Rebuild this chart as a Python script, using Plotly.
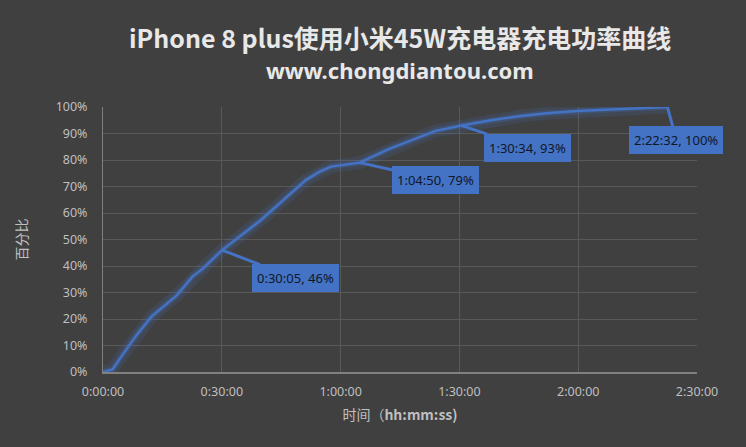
import plotly.graph_objects as go

# elapsed time in minutes, battery percentage
minutes = [0, 2.4, 4.7, 8.5, 12.3, 18.7, 22.6, 25.2, 30.083, 34.5, 39.6, 51.3, 54.7,
           57.6, 64.833, 72, 78.2, 84, 90.567, 98, 105.1, 112, 119.8, 130, 142.533]
percent = [0, 1, 6, 14, 21, 29, 36, 39, 46, 51, 57, 72.5, 75.6,
           77.5, 79, 84, 87.5, 91, 93, 95, 96.5, 97.6, 98.5, 99.2, 100]

# labelled points
label_minutes = [30.083, 64.833, 90.567, 142.533]
label_percent = [46, 79, 93, 100]
label_texts = ["0:30:05, 46%", "1:04:50, 79%", "1:30:34, 93%", "2:22:32, 100%"]
label_offsets = [(73, 28), (76, 17), (66, 22), (9, 33)]

tick_minutes = [0, 30, 60, 90, 120, 150]
tick_labels = ["0:00:00", "0:30:00", "1:00:00", "1:30:00", "2:00:00", "2:30:00"]

BG = "#404040"
BLUE = "#4472C4"
GRID = "#595959"
TXT = "#bfbfbf"

y = [p / 100 for p in percent]

fig = go.Figure()
fig.add_trace(go.Scatter(x=minutes, y=y, mode="lines",
                         line=dict(color="rgba(68,114,196,0.14)", width=13),
                         hoverinfo="skip", showlegend=False))
fig.add_trace(go.Scatter(x=minutes, y=y, mode="lines",
                         line=dict(color="rgba(68,114,196,0.25)", width=6),
                         hoverinfo="skip", showlegend=False))
fig.add_trace(go.Scatter(x=minutes, y=y, mode="lines",
                         line=dict(color=BLUE, width=2.5), showlegend=False))

annotations = []
for m, p, t, (dx, dy) in zip(label_minutes, label_percent, label_texts, label_offsets):
    annotations.append(dict(
        x=m, y=p / 100, xref="x", yref="y", text=t,
        showarrow=True, arrowhead=0, arrowwidth=3, arrowcolor=BLUE,
        ax=dx, ay=dy, standoff=0,
        bgcolor=BLUE, bordercolor=BLUE, borderpad=4,
        font=dict(family="Noto Sans", size=13, color="#101828"),
    ))

annotations.append(dict(
    text="<b>iPhone 8 plus使用小米45W充电器充电功率曲线</b>",
    x=0.5, y=1.264, xref="paper", yref="paper", xanchor="center", yanchor="middle",
    showarrow=False, font=dict(family="Noto Sans CJK SC", size=25, color="#e8e8e8"),
))
annotations.append(dict(
    text="<b>www.chongdiantou.com</b>",
    x=0.5, y=1.14, xref="paper", yref="paper", xanchor="center", yanchor="middle",
    showarrow=False, font=dict(family="Noto Sans", size=22, color="#e8e8e8"),
))

fig.update_layout(
    width=746, height=447,
    paper_bgcolor=BG, plot_bgcolor=BG,
    margin=dict(l=103, r=49, t=107, b=75),
    annotations=annotations,
    font=dict(family="Noto Sans CJK SC", color=TXT, size=12),
    xaxis=dict(range=[0, 150], tickvals=tick_minutes, ticktext=tick_labels,
               showgrid=True, gridcolor=GRID, gridwidth=1,
               showline=True, linecolor="#808080", linewidth=1.5,
               zeroline=False, ticks="outside", ticklen=7, tickcolor=BG,
               tickfont=dict(family="Noto Sans", size=12.5, color=TXT),
               title=dict(text="时间（<b>hh:mm:ss)</b>", standoff=11,
                          font=dict(family="Noto Sans CJK SC", size=14, color=TXT))),
    yaxis=dict(range=[0, 1], dtick=0.1, tickformat=".0%",
               showgrid=True, gridcolor=GRID, gridwidth=1,
               showline=True, linecolor="#808080", linewidth=1,
               zeroline=False, ticks="outside", ticklen=12, tickcolor=BG,
               tickfont=dict(family="Noto Sans", size=12.5, color=TXT),
               title=dict(text="百分比", standoff=24,
                          font=dict(family="Noto Sans CJK SC", size=14, color=TXT))),
)

fig.write_html("out.html", config={"displayModeBar": False},
               post_script="document.body.style.margin='0';document.body.style.background='#404040';")
